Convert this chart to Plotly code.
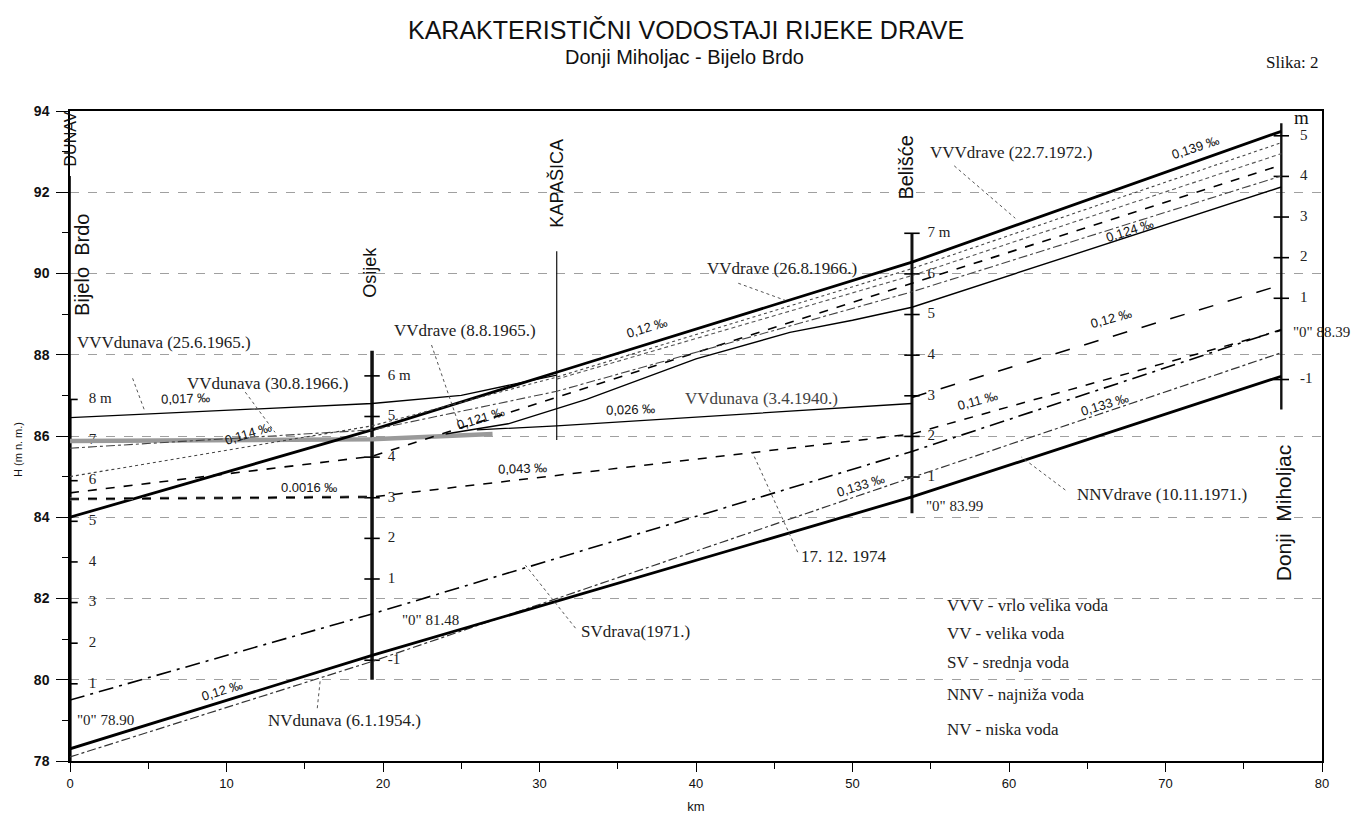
import plotly.graph_objects as go

# ---------------- data ----------------
# stations along the Drava (km from the mouth at Bijelo Brdo)
station_km = [0.0, 19.3, 31.1, 53.8, 77.4]
station_names = ["Bijelo  Brdo", "Osijek", "KAPAŠICA", "Belišće", "Donji  Miholjac"]
staff_bottom = [78.0, 80.0, 85.9, 84.1, 86.65]
staff_top = [92.4, 88.1, 90.55, 91.0, 93.7]
gauge_zero = [78.90, 81.48, None, 83.99, 88.39]
gauge_steps = [
    [1, 2, 3, 4, 5, 6, 7, 8],
    [-1, 1, 2, 3, 4, 5, 6],
    [],
    [1, 2, 3, 4, 5, 6, 7],
    [-1, 1, 2, 3, 4, 5],
]
gauge_step_text = [
    ["1", "2", "3", "4", "5", "6", "7", "8 m"],
    ["-1", "1", "2", "3", "4", "5", "6 m"],
    [],
    ["1", "2", "3", "4", "5", "6", "7 m"],
    ["-1", "1", "2", "3", "4", "5"],
]

# water level profiles (km, H m a.s.l.)
vvv_drave_km = [0, 19.3, 31.1, 53.8, 77.4]
vvv_drave_h = [84.0, 86.15, 87.57, 90.28, 93.5]
vv_drave66_km = [0, 19.3, 31.1, 53.8, 77.4]
vv_drave66_h = [85.0, 86.25, 87.45, 90.12, 93.22]
fine_km = [31.1, 53.8, 77.4]
fine_h = [87.4, 89.95, 92.95]
dash121_km = [0, 19.3, 33.9, 53.8, 77.4]
dash121_h = [84.6, 85.5, 87.3, 89.75, 92.67]
dashdot_top_km = [0, 19.3, 31.1, 53.8, 77.4]
dashdot_top_h = [85.7, 86.15, 87.1, 89.55, 92.4]
vv_drave65_km = [24, 28, 33, 40, 46, 50, 53.8, 77.4]
vv_drave65_h = [86.05, 86.3, 86.9, 87.9, 88.55, 88.85, 89.17, 92.13]
vv_dunava66_km = [0, 19.3, 27]
vv_dunava66_h = [85.88, 85.92, 86.05]
vvv_dunava_km = [0, 19.3, 25, 31.1]
vvv_dunava_h = [86.45, 86.8, 87.0, 87.5]
vv_dunava40_km = [26, 31.1, 53.8]
vv_dunava40_h = [86.15, 86.25, 86.8]
upper_sv_km = [53.8, 77.4]
upper_sv_h = [86.95, 89.72]
lvl1974_km = [0, 19.3, 53.8, 77.4]
lvl1974_h = [84.45, 84.5, 86.05, 88.6]
sv_drava_km = [0, 19.3, 53.8, 77.4]
sv_drava_h = [79.5, 81.62, 85.62, 88.62]
nv_dunava_km = [0, 19.3, 53.8, 77.4]
nv_dunava_h = [78.1, 80.45, 84.98, 88.05]
nnv_drave_km = [0, 19.3, 53.8, 77.4]
nnv_drave_h = [78.3, 80.6, 84.5, 87.47]

# labels with leader lines: text, text km, text H, from km, from H, to km, to H
pointer_text = ["VVVdunava (25.6.1965.)", "VVdunava (30.8.1966.)", "VVdrave (8.8.1965.)",
                "VVdrave (26.8.1966.)", "VVVdrave (22.7.1972.)", "17. 12. 1974",
                "SVdrava(1971.)", "NNVdrave (10.11.1971.)", "NVdunava (6.1.1954.)"]
pointer_tx = [0.3, 7.35, 20.6, 40.6, 54.8, 46.6, 32.5, 64.2, 12.5]
pointer_th = [88.31, 87.3, 88.6, 90.13, 92.99, 83.04, 81.19, 84.57, 79.0]
pointer_x0 = [4.0, 11.2, 23.1, 42.7, 56.5, 46.5, 32.3, 63.6, 15.8]
pointer_y0 = [87.42, 87.08, 88.24, 89.76, 92.65, 83.14, 81.27, 84.67, 79.3]
pointer_x1 = [4.8, 13.1, 24.9, 45.7, 60.4, 43.6, 29.1, 60.8, 16.0]
pointer_y1 = [86.59, 86.09, 86.22, 89.34, 91.36, 85.6, 82.82, 85.48, 80.03]

slope_text = ["0,017 ‰", "0,114 ‰", "0.0016 ‰", "0,121 ‰", "0,12 ‰", "0,026 ‰", "0,043 ‰",
              "0,133 ‰", "0,11 ‰", "0,133 ‰", "0,12 ‰", "0,139 ‰", "0,124 ‰", "0,12 ‰"]
slope_x = [7.35, 11.4, 15.3, 26.2, 36.9, 35.8, 28.9, 50.5, 58.0, 66.1, 66.5, 71.9, 67.7, 9.7]
slope_y = [86.93, 86.07, 84.74, 86.44, 88.66, 86.66, 85.2, 84.79, 86.88, 86.78, 88.9, 93.09, 91.07, 79.74]
slope_ang = [-2, -17, 0, -17, -17, -2, -2, -17, -15, -17, -15, -18, -18, -17]

legend_lines = ["VVV - vrlo velika voda", "VV - velika voda", "SV - srednja voda",
                "NNV - najniža voda", "NV - niska voda"]
legend_h = [81.83, 81.14, 80.43, 79.64, 78.78]

# ---------------- figure ----------------
fig = go.Figure()
SERIF = "Liberation Serif, Times New Roman, serif"
SANS = "Liberation Sans, Arial, sans-serif"


def line(x, y, width=1.2, dash="solid", color="black"):
    fig.add_trace(go.Scatter(x=x, y=y, mode="lines",
                             line=dict(color=color, width=width, dash=dash),
                             hoverinfo="skip"))


# staffs
for i, km in enumerate(station_km):
    w = [1.6, 3.5, 1.2, 3.0, 2.4][i]
    if i == 0:
        line([km, km], [staff_bottom[i], staff_top[i]], 1.6)
        line([km, km], [staff_bottom[i], 86.9], 3.2)
    else:
        line([km, km], [staff_bottom[i], staff_top[i]], w, color="#111")
    if gauge_zero[i] is not None:
        ys = [gauge_zero[i] + k for k in gauge_steps[i]]
        fig.add_trace(go.Scatter(x=[km] * len(ys), y=ys, mode="markers",
                                 marker=dict(symbol="line-ew-open", size=11, color="black",
                                             line=dict(color="black", width=1.6)),
                                 hoverinfo="skip"))
        offs = [1.2, 1.0, 0, 1.0, 1.2][i]
        fig.add_trace(go.Scatter(x=[km + offs] * len(ys), y=ys, mode="text",
                                 text=gauge_step_text[i], textposition="middle right",
                                 textfont=dict(family=SERIF, size=15, color="#222"),
                                 hoverinfo="skip"))

# water levels
line(vv_dunava66_km, vv_dunava66_h, 4.5, "solid", "#9a9a9a")
line(vvv_drave_km, vvv_drave_h, 2.8)
line(vv_drave66_km, vv_drave66_h, 1.1, "dot", "#444")
line(fine_km, fine_h, 1.1, "4px,3px", "#555")
line(dash121_km, dash121_h, 1.6, "dash")
line(dashdot_top_km, dashdot_top_h, 1.1, "dashdot", "#444")
line(vv_drave65_km, vv_drave65_h, 1.4)
line(vvv_dunava_km, vvv_dunava_h, 1.3)
line(vv_dunava40_km, vv_dunava40_h, 1.3)
line(upper_sv_km, upper_sv_h, 1.5, "longdash")
line(lvl1974_km[:2], lvl1974_h[:2], 3, "dash", "#777")
line(lvl1974_km, lvl1974_h, 1.5, "dash")
line(sv_drava_km, sv_drava_h, 1.6, "longdashdot")
line(nv_dunava_km, nv_dunava_h, 1.2, "dashdot", "#333")
line(nnv_drave_km, nnv_drave_h, 2.8)

ann = []
# station names
name_pos = [(0.8, 90.2), (19.2, 90.03), (31.1, 92.23), (53.4, 92.6), (77.5, 84.12)]
name_size = [20, 18, 18, 20, 21]
for n, (x, y), s in zip(station_names, name_pos, name_size):
    ann.append(dict(x=x, y=y, text=n, textangle=-90, showarrow=False,
                    font=dict(family=SANS, size=s, color="#111")))
ann.append(dict(x=0.0, y=93.3, text="DUNAV", textangle=-90, showarrow=False,
                font=dict(family=SANS, size=16, color="#111")))
# gauge zeros
zero_pos = [(0.3, 79.0), (21.1, 81.46), None, (54.6, 84.28), (78.0, 88.56)]
for z, p in zip(gauge_zero, zero_pos):
    if z is None:
        continue
    ann.append(dict(x=p[0], y=p[1], text='"0" %.2f' % z, xanchor="left", showarrow=False,
                    font=dict(family=SERIF, size=15, color="#222")))
ann.append(dict(x=78.7, y=93.85, text="m", showarrow=False,
                font=dict(family=SERIF, size=19, color="#111")))

for t, tx, ty in zip(pointer_text, pointer_tx, pointer_th):
    ann.append(dict(x=tx, y=ty, text=t, xanchor="left", showarrow=False,
                    font=dict(family=SERIF, size=17, color="#222")))
ann.append(dict(x=39.2, y=86.93, text="VVdunava (3.4.1940.)", xanchor="left", showarrow=False,
                font=dict(family=SERIF, size=17, color="#444")))
for t, x, y, a in zip(slope_text, slope_x, slope_y, slope_ang):
    ann.append(dict(x=x, y=y, text=t, textangle=a, showarrow=False,
                    font=dict(family=SANS, size=13, color="#111")))
for t, y in zip(legend_lines, legend_h):
    ann.append(dict(x=55.9, y=y, text=t, xanchor="left", showarrow=False,
                    font=dict(family=SERIF, size=17, color="#222")))

# page-pixel placed texts (converted to paper coords of the plot area)
ann_paper = [
    dict(x=686, y=30, text="KARAKTERISTIČNI VODOSTAJI RIJEKE DRAVE", size=25, fam=SANS),
    dict(x=684, y=57, text="Donji Miholjac - Bijelo Brdo", size=20, fam=SANS),
    dict(x=1292, y=62, text="Slika: 2", size=17, fam=SERIF),
    dict(x=18, y=450, text="H (m n. m.)", size=11, fam=SANS, angle=-90),
]
plot_l, plot_r, plot_t, plot_b = 70, 1322, 111, 761
for a in ann_paper:
    ann.append(dict(x=(a["x"] - plot_l) / (plot_r - plot_l),
                    y=(plot_b - a["y"]) / (plot_b - plot_t),
                    xref="paper", yref="paper", showarrow=False,
                    xanchor="center", yanchor="middle",
                    text=a["text"], textangle=a.get("angle", 0),
                    font=dict(family=a["fam"], size=a["size"], color="#111")))

shapes = []
for x0, y0, x1, y1 in zip(pointer_x0, pointer_y0, pointer_x1, pointer_y1):
    shapes.append(dict(type="line", x0=x0, y0=y0, x1=x1, y1=y1, xref="x", yref="y",
                       line=dict(color="#555", width=1, dash="dot")))

# page body has an 8px margin: compensate so the plot area lands on the reference pixels
fig.update_layout(width=1367, height=819, margin=dict(l=62, r=53, t=103, b=66),
                  plot_bgcolor="white", paper_bgcolor="white", showlegend=False,
                  annotations=ann, shapes=shapes)
fig.update_xaxes(range=[0, 80], tick0=0, dtick=10, ticks="outside", ticklen=9,
                 tickcolor="black", showline=True, linecolor="black", linewidth=2, mirror=True,
                 showgrid=False, zeroline=False,
                 minor=dict(ticks="outside", dtick=5, ticklen=6, tickcolor="black"),
                 tickfont=dict(family=SANS, size=13, color="#111"),
                 title=dict(text="km", standoff=12, font=dict(family=SANS, size=13, color="#111")))
fig.update_yaxes(range=[78, 94], tick0=78, dtick=2, ticks="outside", ticklen=12,
                 tickcolor="black", showline=True, linecolor="black", linewidth=1.5, mirror=True,
                 showgrid=True, gridcolor="#a0a0a0", griddash="dash", gridwidth=1, zeroline=False,
                 minor=dict(ticks="outside", dtick=1, ticklen=6, tickcolor="black"),
                 ticklabelstandoff=4,
                 tickfont=dict(family=SANS, size=14, color="#111", weight="bold"))

fig.write_html("out.html")
